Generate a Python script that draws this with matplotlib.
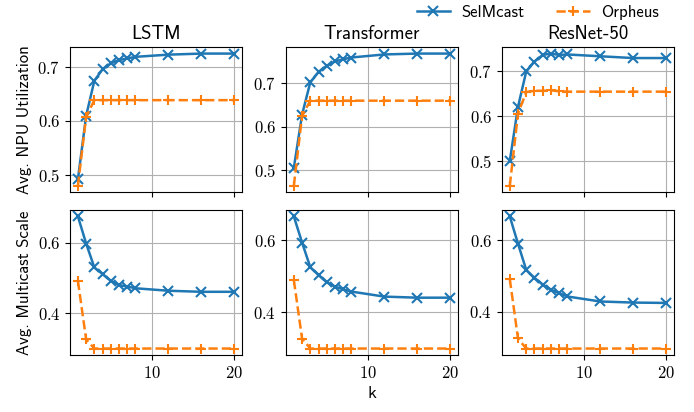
import numpy as np
import matplotlib
matplotlib.use('Agg')
import matplotlib.pyplot as plt

plt.rcParams['font.family'] = 'cmr10'
plt.rcParams['mathtext.fontset'] = 'cm'
plt.rcParams['axes.formatter.use_mathtext'] = True

k = [1, 2, 3, 4, 5, 6, 7, 8, 12, 16, 20]
models = ['LSTM', 'Transformer', 'ResNet-50']

# avg NPU utilization
util_sel = {
    'LSTM':        [0.492, 0.609, 0.674, 0.695, 0.706, 0.712, 0.715, 0.718, 0.722, 0.724, 0.724],
    'Transformer': [0.506, 0.628, 0.702, 0.726, 0.740, 0.750, 0.755, 0.759, 0.766, 0.768, 0.768],
    'ResNet-50':   [0.500, 0.621, 0.700, 0.722, 0.737, 0.740, 0.737, 0.738, 0.734, 0.730, 0.730],
}
util_orph = {
    'LSTM':        [0.480, 0.607, 0.638, 0.638, 0.638, 0.638, 0.638, 0.638, 0.638, 0.638, 0.638],
    'Transformer': [0.465, 0.625, 0.660, 0.660, 0.660, 0.660, 0.660, 0.660, 0.660, 0.660, 0.660],
    'ResNet-50':   [0.445, 0.606, 0.654, 0.657, 0.657, 0.658, 0.656, 0.655, 0.655, 0.655, 0.655],
}
# avg multicast scale
scale_sel = {
    'LSTM':        [0.675, 0.598, 0.530, 0.511, 0.492, 0.480, 0.476, 0.471, 0.464, 0.461, 0.461],
    'Transformer': [0.667, 0.594, 0.525, 0.503, 0.483, 0.471, 0.463, 0.457, 0.443, 0.440, 0.440],
    'ResNet-50':   [0.666, 0.590, 0.517, 0.495, 0.476, 0.462, 0.452, 0.443, 0.429, 0.426, 0.425],
}
scale_orph = {
    'LSTM':        [0.492, 0.326, 0.300, 0.300, 0.300, 0.300, 0.300, 0.300, 0.300, 0.300, 0.300],
    'Transformer': [0.489, 0.326, 0.298, 0.298, 0.298, 0.298, 0.298, 0.298, 0.298, 0.298, 0.298],
    'ResNet-50':   [0.492, 0.326, 0.298, 0.298, 0.298, 0.298, 0.298, 0.298, 0.298, 0.298, 0.298],
}

sans = 'cmss10'
fig, axes = plt.subplots(2, 3, figsize=(6.94, 4.12), dpi=100, sharex='col')
fig.subplots_adjust(left=0.101, right=0.971, top=0.886, bottom=0.138,
                    hspace=0.12, wspace=0.256)

for j, m in enumerate(models):
    for i, (sel, orph) in enumerate([(util_sel, util_orph), (scale_sel, scale_orph)]):
        ax = axes[i][j]
        ax.plot(k, sel[m], '-x', color='C0', lw=1.8, ms=7.5, mew=1.5, label='SelMcast')
        ax.plot(k, orph[m], '--+', color='C1', lw=1.8, ms=7.5, mew=1.5, label='Orpheus')
        ax.grid(True, color='#b0b0b0', lw=0.8)
        ax.tick_params(labelsize=12)
        if i == 0:
            ax.set_title(m, family=sans, fontsize=13.5)
    axes[1][j].set_xticks([10, 20])
    axes[0][j].set_yticks([0.5, 0.6, 0.7])
    axes[1][j].set_yticks([0.4, 0.6])

axes[0][0].set_ylabel('Avg. NPU Utilization', family=sans, fontsize=12)
axes[1][0].set_ylabel('Avg. Multicast Scale', family=sans, fontsize=12)
axes[1][1].set_xlabel('k', family=sans, fontsize=13)

h, l = axes[0][0].get_legend_handles_labels()
fig.legend(h, l, loc='upper center', bbox_to_anchor=(0.775, 1.025), ncol=2, frameon=False,
           prop={'family': sans, 'size': 12}, handlelength=2.0, columnspacing=1.9,
           handletextpad=0.7)

fig.savefig('out.png', dpi=100)
